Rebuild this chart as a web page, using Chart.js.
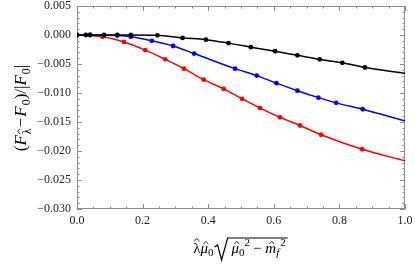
<!DOCTYPE html>
<html>
<head>
<meta charset="utf-8">
<script src="https://cdn.jsdelivr.net/npm/chart.js@4"></script>
<style>
  html, body { margin: 0; padding: 0; background: #fff; }
  #wrap { width: 415px; height: 270px; }
</style>
</head>
<body>
<div id="wrap"><canvas id="chart" width="415" height="270"></canvas></div>
<script>
// values
const blackX = [0, 0.027, 0.04, 0.082, 0.123, 0.164, 0.245, 0.322, 0.393, 0.462, 0.530, 0.604, 0.672, 0.740, 0.809, 0.878, 1.0];
const blackY = [0, 0, 0, 0, 0, 0, -0.00005, -0.0005, -0.0008, -0.0014, -0.0021, -0.0028, -0.0035, -0.0042, -0.0048, -0.0056, -0.0066];

const blueX = [0, 0.04, 0.082, 0.123, 0.164, 0.228, 0.293, 0.357, 0.482, 0.548, 0.608, 0.672, 0.736, 0.790, 0.871, 1.0];
const blueY = [0, 0, -0.00005, -0.0001, -0.0003, -0.001, -0.0019, -0.0032, -0.0058, -0.0070, -0.0083, -0.0096, -0.0108, -0.0117, -0.0128, -0.0148];

const redX = [0, 0.078, 0.143, 0.208, 0.269, 0.326, 0.386, 0.447, 0.503, 0.558, 0.619, 0.680, 0.744, 0.869, 1.0];
const redY = [0, -0.0003, -0.0012, -0.0026, -0.0042, -0.0058, -0.0077, -0.0093, -0.0110, -0.0126, -0.0142, -0.0156, -0.0172, -0.0197, -0.0217];

const xTicks = [0, 0.2, 0.4, 0.6, 0.8, 1.0];
const yTicks = [0.005, 0, -0.005, -0.010, -0.015, -0.020, -0.025, -0.030];

const PLOT = { left: 77, right: 405, top: 6, bottom: 209 };
const SERIF = '"Liberation Serif", "DejaVu Serif", serif';

function series(xs, ys, color) {
    return {
        data: xs.map((x, i) => ({ x: x, y: ys[i] })),
        borderColor: color,
        backgroundColor: color,
        borderWidth: 1.5,
        pointRadius: ctx => ctx.dataIndex === xs.length - 1 ? 0 : 2.4,
        pointBorderWidth: 0,
        cubicInterpolationMode: 'monotone',
        fill: false
    };
}

function minus(s) { return s.replace('-', '\u2212'); }

// frame with inward ticks, Mathematica style
const framePlugin = {
    id: 'frame',
    beforeDatasetsDraw(chart) {
        const c = chart.ctx, a = chart.chartArea;
        const xs = chart.scales.x, ys = chart.scales.y;
        c.save();
        c.strokeStyle = '#8c8c8c';
        c.lineWidth = 1;
        c.strokeRect(a.left + 0.5, a.top + 0.5, a.right - a.left - 1, a.bottom - a.top - 1);
        c.beginPath();
        for (let i = 0; i <= 20; i++) {
            const v = i * 0.05;
            const len = i % 4 === 0 ? 5 : 2.5;
            const px = Math.round(xs.getPixelForValue(v)) + 0.5;
            c.moveTo(px, a.bottom); c.lineTo(px, a.bottom - len);
            c.moveTo(px, a.top); c.lineTo(px, a.top + len);
        }
        for (let i = 0; i <= 35; i++) {
            const v = 0.005 - i * 0.001;
            const len = i % 5 === 0 ? 5 : 2.5;
            const py = Math.round(ys.getPixelForValue(v)) + 0.5;
            c.moveTo(a.left, py); c.lineTo(a.left + len, py);
            c.moveTo(a.right, py); c.lineTo(a.right - len, py);
        }
        c.stroke();
        c.restore();
    }
};

// draws a row of text pieces: {t, f, dy, gap, hat}
function drawPieces(c, pieces, x, y) {
    let cx = x;
    pieces.forEach(p => {
        c.font = p.f;
        const w = c.measureText(p.t).width;
        c.fillText(p.t, cx, y + (p.dy || 0));
        if (p.hat) {
            const m = c.measureText(p.t);
            const top = y + (p.dy || 0) - m.actualBoundingBoxAscent - 2;
            const hx = cx + w / 2 + (p.hatShift || 0);
            c.save();
            c.lineWidth = 0.9;
            c.strokeStyle = '#000';
            c.beginPath();
            c.moveTo(hx - 2.6, top);
            c.lineTo(hx, top - 2.5);
            c.lineTo(hx + 2.6, top);
            c.stroke();
            c.restore();
        }
        cx += w + (p.gap || 0);
    });
    return cx;
}
function piecesWidth(c, pieces) {
    let w = 0;
    pieces.forEach(p => { c.font = p.f; w += c.measureText(p.t).width + (p.gap || 0); });
    return w;
}

const labelPlugin = {
    id: 'labels',
    afterDraw(chart) {
        const c = chart.ctx;
        const it = 'italic 17px ' + SERIF, up = '17px ' + SERIF;
        const upS = '12px ' + SERIF;
        c.save();
        c.fillStyle = '#000';
        c.textBaseline = 'alphabetic';

        // y axis title
        const yp = [
            { t: '(', f: up }, { t: 'F', f: it, gap: 1 }, { t: '\u03BB', f: upS, dy: 5, hat: true, gap: 1 },
            { t: '\u2212', f: up, gap: 1 }, { t: 'F', f: it, gap: 1 }, { t: '0', f: upS, dy: 4 },
            { t: ')/|', f: up }, { t: 'F', f: it, gap: 1 }, { t: '0', f: upS, dy: 4 }, { t: '|', f: up }
        ];
        c.save();
        c.translate(26, 108);
        c.rotate(-Math.PI / 2);
        drawPieces(c, yp, -piecesWidth(c, yp) / 2, 0);
        c.restore();

        // x axis title
        const f = '15px ' + SERIF, fi = 'italic 15px ' + SERIF;
        const fs = '11px ' + SERIF, fsi = 'italic 11px ' + SERIF;
        const left = [
            { t: '\u03BB', f: f, hat: true },
            { t: '\u03BC', f: fi, hat: true, hatShift: 1.5 },
            { t: '0', f: fs, dy: 3 }
        ];
        const inner = [
            { t: '\u03BC', f: fi, hat: true, hatShift: 1.5 },
            { t: '0', f: fs, dy: 3 }, { t: '2', f: fs, dy: -7, gap: 3 },
            { t: '\u2212 ', f: f },
            { t: 'm', f: fi, hat: true, hatShift: 1 },
            { t: 'f', f: fsi, dy: 3, gap: 1 }, { t: '2', f: fs, dy: -7 }
        ];
        const base = 253;
        const wL = piecesWidth(c, left), wI = piecesWidth(c, inner);
        const radW = 14, pad = 3;
        const x0 = 239 - (wL + radW + pad + wI) / 2;
        const after = drawPieces(c, left, x0, base);
        const rx = after + 1;
        c.strokeStyle = '#000';
        c.lineWidth = 1.2;
        c.beginPath();
        c.moveTo(rx, base - 6);
        c.lineTo(rx + 3, base - 8);
        c.lineTo(rx + 7, base + 7);
        c.lineTo(rx + radW - 1, 238);
        c.lineTo(rx + radW + pad + wI + 2, 238);
        c.stroke();
        drawPieces(c, inner, rx + radW + pad, base);
        c.restore();
    }
};

new Chart(document.getElementById('chart').getContext('2d'), {
    type: 'line',
    data: {
        datasets: [
            series(blackX, blackY, '#000000'),
            series(blueX, blueY, '#0000ff'),
            series(redX, redY, '#ff0000')
        ]
    },
    options: {
        responsive: false,
        animation: false,
        layout: { padding: { left: 0, right: 415 - PLOT.right, top: PLOT.top, bottom: 0 } },
        plugins: { legend: { display: false }, tooltip: { enabled: false } },
        scales: {
            x: {
                type: 'linear',
                min: 0, max: 1,
                afterFit(s) { s.height = 270 - PLOT.bottom; s.paddingLeft = 0; s.paddingRight = 0; },
                afterBuildTicks(s) { s.ticks = xTicks.map(v => ({ value: v })); },
                grid: { display: false, drawTicks: false },
                border: { display: false },
                ticks: {
                    padding: 5,
                    color: '#222',
                    font: { family: SERIF, size: 12 },
                    maxRotation: 0,
                    callback: v => v.toFixed(1)
                }
            },
            y: {
                type: 'linear',
                min: -0.030, max: 0.005,
                afterFit(s) { s.width = PLOT.left; s.paddingTop = 0; s.paddingBottom = 0; },
                afterBuildTicks(s) { s.ticks = yTicks.map(v => ({ value: v })); },
                grid: { display: false, drawTicks: false },
                border: { display: false },
                ticks: {
                    padding: 6,
                    color: '#222',
                    font: { family: SERIF, size: 12 },
                    callback: v => Math.abs(v) < 1e-9 ? '0.000' : minus(v.toFixed(3))
                }
            }
        }
    },
    plugins: [framePlugin, labelPlugin]
});
</script>
</body>
</html>
